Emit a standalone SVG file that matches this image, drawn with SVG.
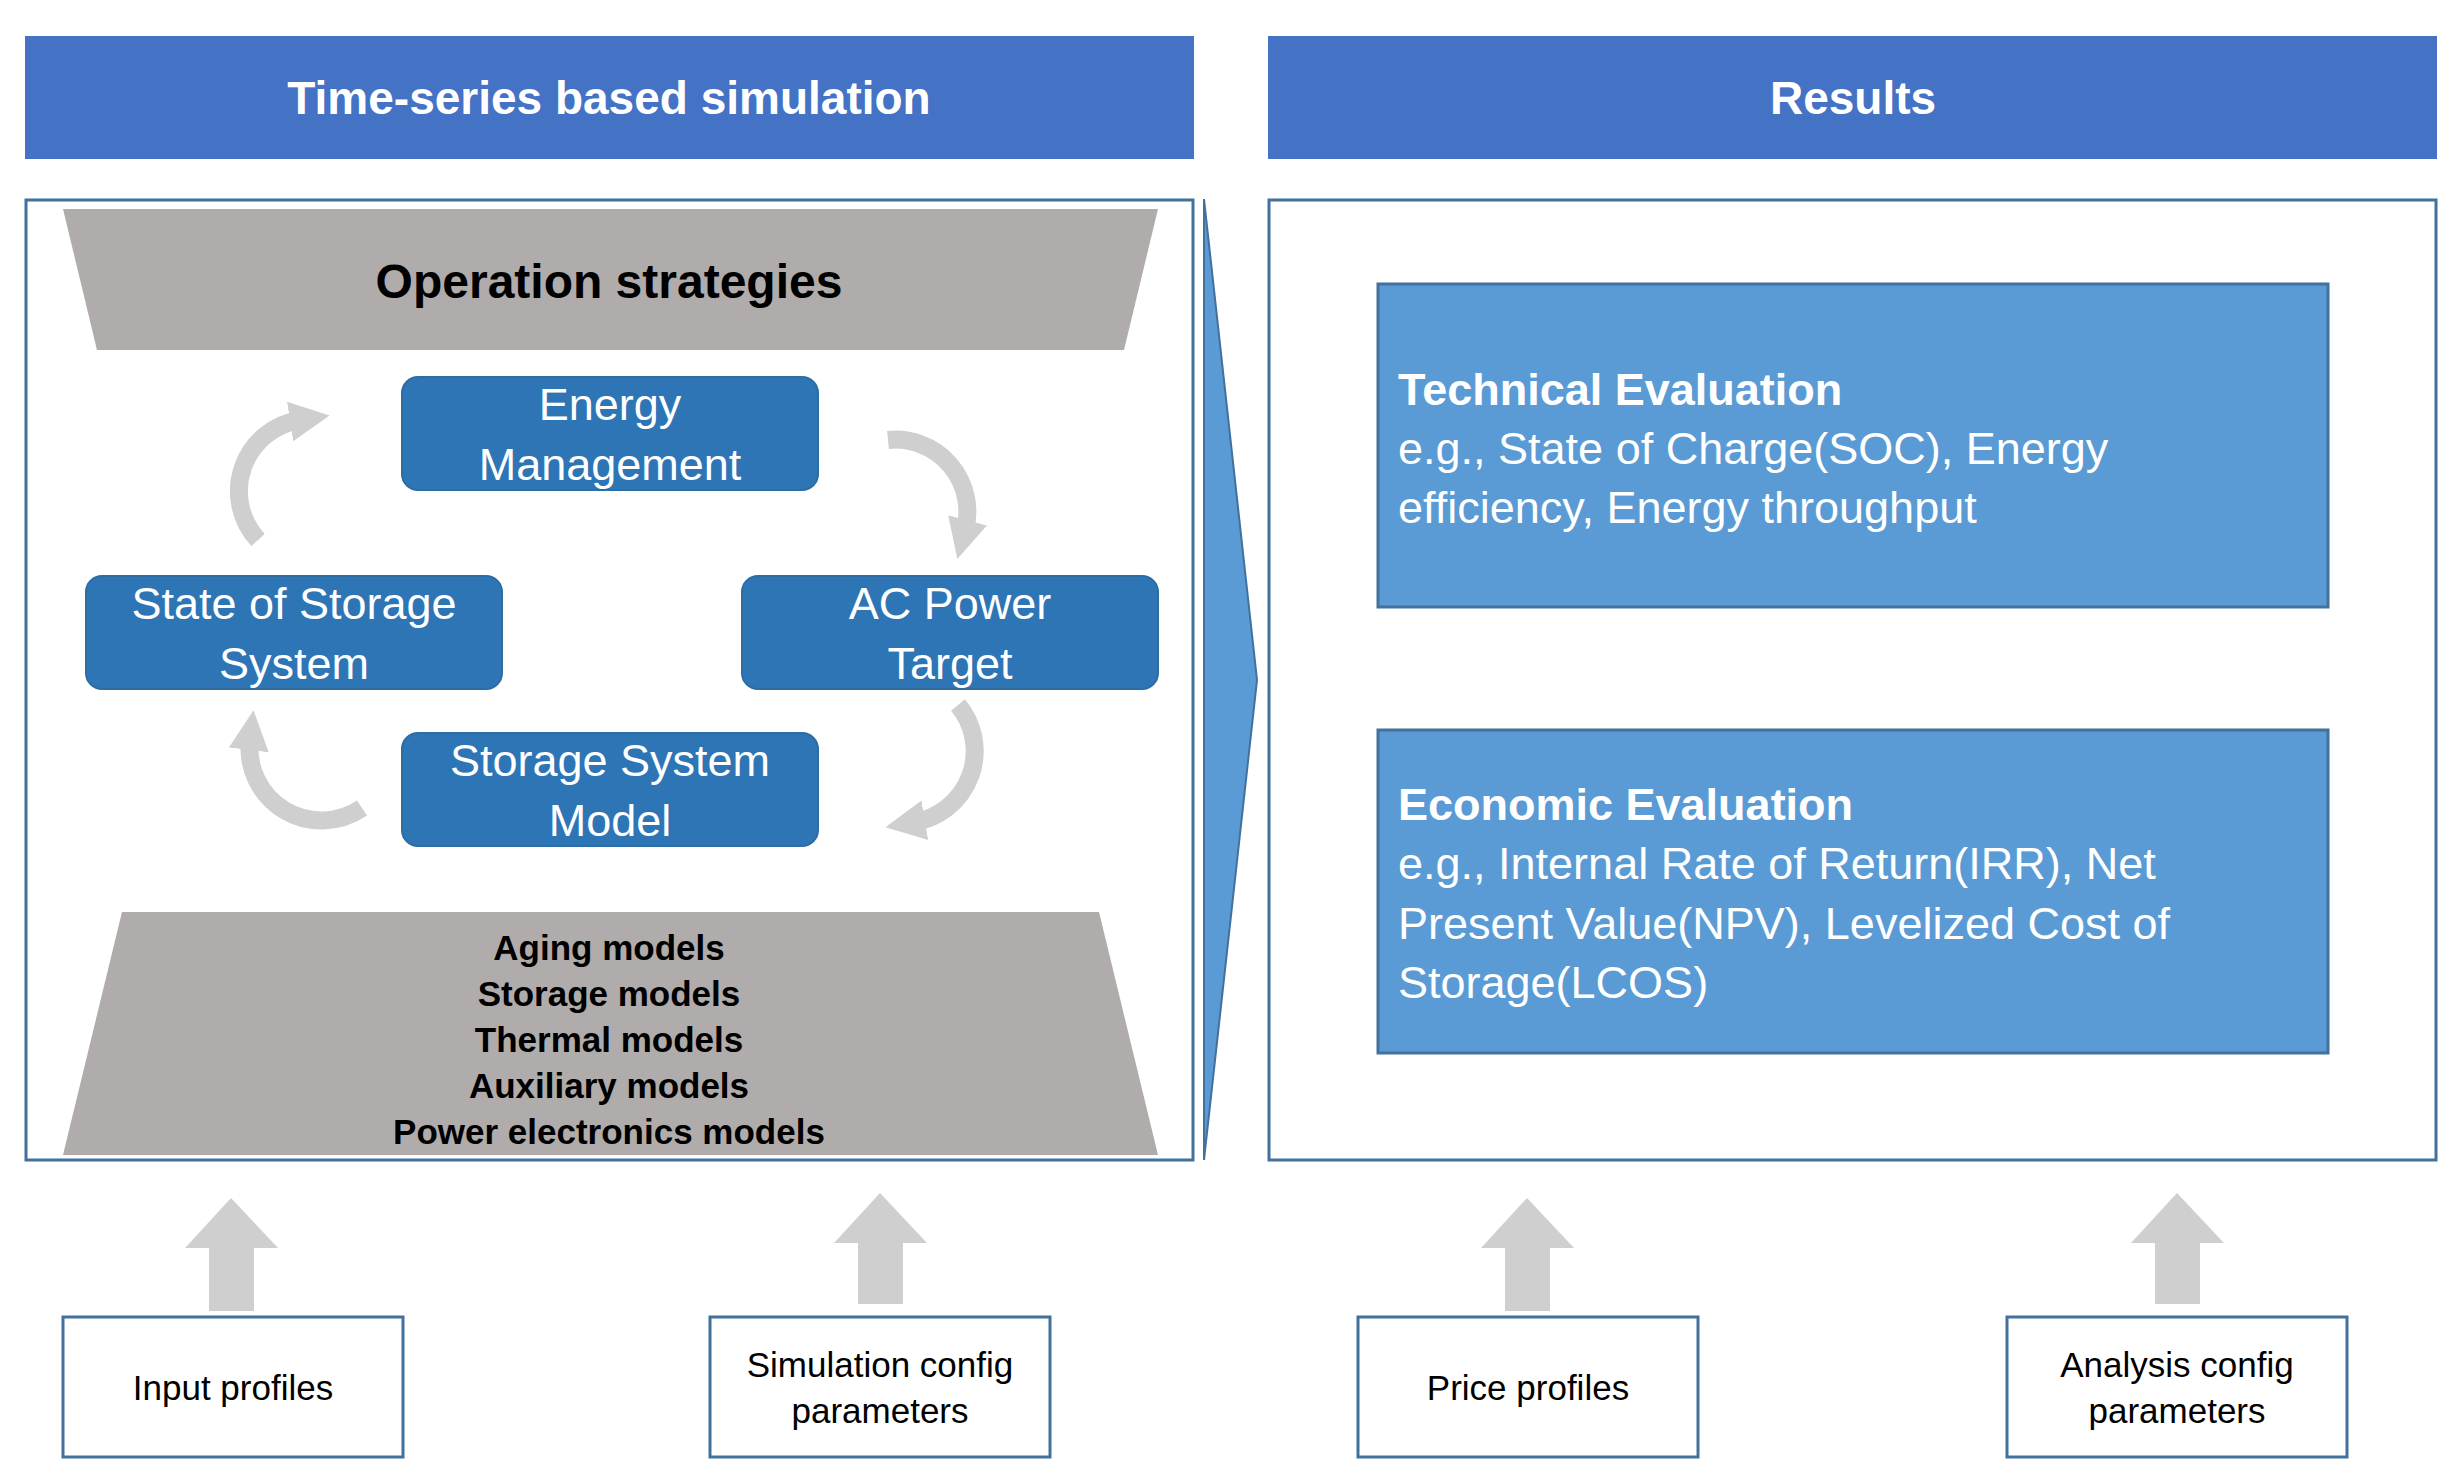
<svg xmlns="http://www.w3.org/2000/svg" width="2461" height="1481" viewBox="0 0 2461 1481">
<defs>
<style>
text{font-family:"Liberation Sans",Arial,sans-serif}
.hdr{fill:#4472C4}
.ht{fill:#fff;font-weight:bold;font-size:46px;text-anchor:middle}
.frame{fill:#fff;stroke:#41719C;stroke-width:3}
.trap{fill:#AFACAB}
.bt{font-weight:bold;fill:#000;text-anchor:middle}
.node{fill:#2E75B6;stroke:#2E6CA4;stroke-width:2}
.nt{fill:#fff;font-size:45px;text-anchor:middle}
.res{fill:#5B9BD5;stroke:#41719C;stroke-width:3}
.rt{fill:#fff;font-size:45px}
.inb{fill:#fff;stroke:#41719C;stroke-width:3}
.it{fill:#000;font-size:35px;text-anchor:middle}
.cyc{fill:none;stroke:#D0CFCF;stroke-width:18}
.up{fill:#D0CFCF}
</style>
<marker id="ah" markerUnits="userSpaceOnUse" markerWidth="50" markerHeight="50" refX="10" refY="25" orient="auto" viewBox="0 0 50 50">
<path d="M0,5 L40,25 L0,45 Z" fill="#D0CFCF"/>
</marker>
</defs>
<rect x="0" y="0" width="2461" height="1481" fill="#fff"/>
<g id="header-sim"><rect class="hdr" x="25" y="36" width="1169" height="123"/><text class="ht" x="609" y="114">Time-series based simulation</text></g>
<g id="header-res"><rect class="hdr" x="1268" y="36" width="1169" height="123"/><text class="ht" x="1853" y="114">Results</text></g>
<g id="sim-frame"><rect class="frame" x="26" y="200" width="1167" height="960"/></g>
<g id="res-frame"><rect class="frame" x="1269" y="200" width="1167" height="960"/></g>
<g id="flow-arrow"><polygon points="1204,199 1257,680 1204,1160" fill="#5B9BD5" stroke="#41719C" stroke-width="2"/></g>
<g id="operation-strategies"><polygon class="trap" points="63,209 1158,209 1124,350 97,350"/><text class="bt" x="609" y="298" font-size="48">Operation strategies</text></g>
<g id="models"><polygon class="trap" points="122,912 1099,912 1158,1155 63,1155"/>
<text class="bt" font-size="35" x="609" y="960">Aging models</text>
<text class="bt" font-size="35" x="609" y="1006">Storage models</text>
<text class="bt" font-size="35" x="609" y="1052">Thermal models</text>
<text class="bt" font-size="35" x="609" y="1098">Auxiliary models</text>
<text class="bt" font-size="35" x="609" y="1144">Power electronics models</text></g>
<g id="connectors">
<path class="cyc" d="M258,540 A72,72 0 0 1 300,420" marker-end="url(#ah)"/>
<path class="cyc" d="M888,440 A72,72 0 0 1 965,530" marker-end="url(#ah)"/>
<path class="cyc" d="M958,705 A72,72 0 0 1 915,822" marker-end="url(#ah)"/>
<path class="cyc" d="M362,808 A72,72 0 0 1 250,740" marker-end="url(#ah)"/>
<g class="up">
<polygon points="231,1198 278,1248 254,1248 254,1311 209,1311 209,1248 185,1248"/>
<polygon points="880,1193 927,1243 903,1243 903,1304 858,1304 858,1243 834,1243"/>
<polygon points="1527,1198 1574,1248 1550,1248 1550,1311 1505,1311 1505,1248 1481,1248"/>
<polygon points="2177,1193 2224,1243 2200,1243 2200,1304 2155,1304 2155,1243 2131,1243"/>
</g>
</g>
<g id="energy-management"><rect class="node" x="402" y="377" width="416" height="113" rx="16"/><text class="nt" x="610" y="420">Energy</text><text class="nt" x="610" y="480">Management</text></g>
<g id="state-of-storage"><rect class="node" x="86" y="576" width="416" height="113" rx="16"/><text class="nt" x="294" y="619">State of Storage</text><text class="nt" x="294" y="679">System</text></g>
<g id="ac-power-target"><rect class="node" x="742" y="576" width="416" height="113" rx="16"/><text class="nt" x="950" y="619">AC Power</text><text class="nt" x="950" y="679">Target</text></g>
<g id="storage-system-model"><rect class="node" x="402" y="733" width="416" height="113" rx="16"/><text class="nt" x="610" y="776">Storage System</text><text class="nt" x="610" y="836">Model</text></g>
<g id="technical-evaluation"><rect class="res" x="1378" y="284" width="950" height="323"/>
<text class="rt" x="1398" y="405" font-weight="bold">Technical Evaluation</text>
<text class="rt" x="1398" y="464">e.g., State of Charge(SOC), Energy</text>
<text class="rt" x="1398" y="523">efficiency, Energy throughput</text></g>
<g id="economic-evaluation"><rect class="res" x="1378" y="730" width="950" height="323"/>
<text class="rt" x="1398" y="820" font-weight="bold">Economic Evaluation</text>
<text class="rt" x="1398" y="879">e.g., Internal Rate of Return(IRR), Net</text>
<text class="rt" x="1398" y="939">Present Value(NPV), Levelized Cost of</text>
<text class="rt" x="1398" y="998">Storage(LCOS)</text></g>
<g id="input-profiles"><rect class="inb" x="63" y="1317" width="340" height="140"/><text class="it" x="233" y="1400">Input profiles</text></g>
<g id="sim-config"><rect class="inb" x="710" y="1317" width="340" height="140"/><text class="it" x="880" y="1377">Simulation config</text><text class="it" x="880" y="1423">parameters</text></g>
<g id="price-profiles"><rect class="inb" x="1358" y="1317" width="340" height="140"/><text class="it" x="1528" y="1400">Price profiles</text></g>
<g id="analysis-config"><rect class="inb" x="2007" y="1317" width="340" height="140"/><text class="it" x="2177" y="1377">Analysis config</text><text class="it" x="2177" y="1423">parameters</text></g>
</svg>
